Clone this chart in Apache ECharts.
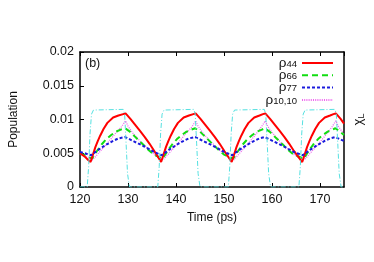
<!DOCTYPE html>
<html><head><meta charset="utf-8">
<script src="https://cdn.jsdelivr.net/npm/echarts@6/dist/echarts.min.js"></script>
<style>html,body{margin:0;padding:0;background:#fff}#c{width:374px;height:262px}</style>
</head><body><div id="c"></div>
<script>
var xTicks = [120, 130, 140, 150, 160, 170];
var yTicks = [0, 0.005, 0.01, 0.015, 0.02];
var seriesNames = ['ρ44', 'ρ66', 'ρ77', 'ρ10,10'];

var rho44 = [
 [120,0.0050],[121,0.0045],[121.7,0.0040],[122.2,0.0037],[122.7,0.0048],[123.2,0.0059],[123.7,0.0068],[124.2,0.0076],[124.9,0.0086],[125.7,0.0095],[126.9,0.0103],[128,0.0106],[129,0.0108],[129.5,0.0109],
 [130.5,0.0101],[131.5,0.0092],[132.5,0.0083],[133.5,0.0074],[134.5,0.0064],[135.5,0.0053],[136.9,0.0037],
 [137.4,0.0048],[137.9,0.0059],[138.4,0.0068],[138.9,0.0076],[139.6,0.0086],[140.4,0.0095],[141.6,0.0103],[142.7,0.0106],[143.6,0.0108],[144.1,0.0109],
 [145.1,0.0101],[146.1,0.0092],[147.1,0.0083],[148.1,0.0074],[149.1,0.0064],[150.1,0.0053],[151.6,0.0037],
 [152.1,0.0048],[152.6,0.0059],[153.1,0.0068],[153.6,0.0076],[154.3,0.0086],[155.1,0.0095],[156.3,0.0103],[157.4,0.0106],[158.1,0.0108],[158.6,0.0109],
 [159.6,0.0101],[160.6,0.0092],[161.6,0.0083],[162.6,0.0074],[163.6,0.0064],[164.6,0.0053],[166.3,0.0037],
 [166.8,0.0048],[167.3,0.0059],[167.8,0.0068],[168.3,0.0076],[169.0,0.0086],[169.8,0.0095],[171.0,0.0103],[172.1,0.0106],[172.8,0.0108],[173.3,0.0109],
 [174.3,0.0101],[175,0.0094]
];
var rho66 = [
 [120,0.0050],[121,0.0047],[122.5,0.0042],[123.5,0.0053],[124.5,0.0063],[125.5,0.0071],[126.5,0.0077],[127.5,0.0082],[128.5,0.0085],[129.4,0.0087],
 [130.4,0.0082],[131.4,0.0075],[132.4,0.0068],[133.4,0.0061],[134.4,0.0054],[135.4,0.0048],[137.2,0.0042],
 [138.2,0.0053],[139.2,0.0063],[140.2,0.0071],[141.2,0.0077],[142.2,0.0082],[143.2,0.0085],[144.0,0.0087],
 [145,0.0082],[146,0.0075],[147,0.0068],[148,0.0061],[149,0.0054],[150,0.0048],[151.9,0.0042],
 [152.9,0.0053],[153.9,0.0063],[154.9,0.0071],[155.9,0.0077],[156.9,0.0082],[157.9,0.0085],[158.5,0.0087],
 [159.5,0.0082],[160.5,0.0075],[161.5,0.0068],[162.5,0.0061],[163.5,0.0054],[164.5,0.0048],[166.6,0.0042],
 [167.6,0.0053],[168.6,0.0063],[169.6,0.0071],[170.6,0.0077],[171.6,0.0082],[172.6,0.0085],[173.2,0.0087],
 [174.2,0.0082],[175,0.0077]
];
var rho77 = [
 [120,0.0052],[121,0.0050],[122.3,0.0047],[123.8,0.0055],[125.3,0.0062],[126.8,0.0068],[128,0.0072],[129.4,0.0074],
 [131.4,0.0067],[133.4,0.0060],[135.4,0.0052],[137,0.0047],
 [138.5,0.0055],[140,0.0062],[141.5,0.0068],[142.7,0.0072],[144.0,0.0074],
 [146,0.0067],[148,0.0060],[150,0.0052],[151.7,0.0047],
 [153.2,0.0055],[154.7,0.0062],[156.2,0.0068],[157.4,0.0072],[158.5,0.0074],
 [160.5,0.0067],[162.5,0.0060],[164.5,0.0052],[166.4,0.0047],
 [167.9,0.0055],[169.4,0.0062],[170.9,0.0068],[172.1,0.0072],[173.2,0.0074],
 [175,0.0068]
];
var rho1010 = [
 [120,0.0049],[121,0.0046],[122.6,0.0040],[124.1,0.0052],[125.6,0.0064],[127.1,0.0077],[128.6,0.0089],[129.5,0.0098],
 [130,0.0090],[131,0.0080],[132.5,0.0068],[134,0.0058],[135.5,0.0048],[137.3,0.0040],
 [138.8,0.0052],[140.3,0.0064],[141.8,0.0077],[143.3,0.0089],[144.1,0.0098],
 [144.6,0.0090],[145.6,0.0080],[147.1,0.0068],[148.6,0.0058],[150.1,0.0048],[152.0,0.0040],
 [153.5,0.0052],[155.0,0.0064],[156.5,0.0077],[157.8,0.0089],[158.6,0.0098],
 [159.1,0.0090],[160.1,0.0080],[161.6,0.0068],[163.1,0.0058],[164.6,0.0048],[166.7,0.0040],
 [168.2,0.0052],[169.7,0.0064],[171.2,0.0077],[172.5,0.0089],[173.3,0.0098],
 [173.8,0.0090],[174.8,0.0080],[175,0.0078]
];
var chiL = [
 [120,0],[121.5,0],[121.8,0.003],[122.1,0.008],[122.4,0.0108],[122.8,0.0114],[129.0,0.0115],[129.3,0.0108],[129.6,0.0065],[129.9,0.002],[130.3,0],
 [136.2,0],[136.5,0.003],[136.8,0.008],[137.1,0.0108],[137.5,0.0114],[143.7,0.0115],[144.0,0.0108],[144.3,0.0065],[144.6,0.002],[145.0,0],
 [150.9,0],[151.2,0.003],[151.5,0.008],[151.8,0.0108],[152.2,0.0114],[158.4,0.0115],[158.7,0.0108],[159.0,0.0065],[159.3,0.002],[159.7,0],
 [165.6,0],[165.9,0.003],[166.2,0.008],[166.5,0.0108],[166.9,0.0114],[173.1,0.0115],[173.4,0.0108],[173.7,0.0065],[174.0,0.002],[174.4,0],[175,0]
];

var FONT = 'Liberation Sans';
var chart = echarts.init(document.getElementById('c'), null, {renderer: 'canvas'});
var axisLine = {show: true, onZero: false, lineStyle: {color: '#000', width: 1.5}};
var tick = {show: true, inside: true, length: 4, lineStyle: {color: '#000', width: 1}};
function mk(name, data, color, width, type, z) {
  return {name: name, type: 'line', data: data, symbol: 'none', showSymbol: false,
    lineStyle: {color: color, width: width, type: type}, itemStyle: {color: color}, z: z, animation: false};
}
chart.setOption({
  animation: false,
  textStyle: {fontFamily: FONT},
  grid: {left: 77.5, right: 25, top: 52, bottom: 75, containLabel: false},
  xAxis: [
    {type: 'value', min: xTicks[0], max: 175, interval: 10, position: 'bottom',
     axisLine: axisLine, axisTick: tick, splitLine: {show: false},
     axisLabel: {color: '#111', fontSize: 12.5, fontFamily: FONT, margin: 6, showMaxLabel: false},
     name: 'Time (ps)', nameLocation: 'middle', nameGap: 25,
     nameTextStyle: {color: '#111', fontSize: 12, fontFamily: FONT}},
    {type: 'value', min: xTicks[0], max: 175, interval: 10, position: 'top',
     axisLine: axisLine, axisTick: tick, axisLabel: {show: false}, splitLine: {show: false}}
  ],
  yAxis: [
    {type: 'value', min: yTicks[0], max: yTicks[yTicks.length - 1], interval: 0.005, position: 'left',
     axisLine: axisLine, axisTick: tick, splitLine: {show: false},
     axisLabel: {color: '#111', fontSize: 12.5, fontFamily: FONT, margin: 6,
       formatter: function (v) { return String(+v.toFixed(3)); }},
     name: 'Population', nameLocation: 'middle', nameGap: 60,
     nameTextStyle: {color: '#111', fontSize: 12, fontFamily: FONT}},
    {type: 'value', min: 0, max: 0.02, interval: 0.005, position: 'right',
     axisLine: axisLine, axisTick: {show: false}, axisLabel: {show: false}, splitLine: {show: false},
     name: '{a|χ}{b|L}', nameLocation: 'middle', nameGap: 7,
     nameTextStyle: {color: '#111', fontFamily: FONT,
       rich: {a: {fontSize: 13, lineHeight: 15, fontFamily: FONT, color: '#111'},
              b: {fontSize: 9, lineHeight: 15, verticalAlign: 'bottom', fontFamily: FONT, color: '#111'}}}}
  ],
  legend: {
    data: seriesNames, orient: 'vertical', align: 'right', right: 40, top: 56,
    itemWidth: 31, itemHeight: 12, itemGap: -1.7, padding: 0,
    itemStyle: {opacity: 0},
    formatter: function (n) { return '{r|ρ}{s|' + n.slice(1) + '}'; },
    textStyle: {color: '#111', fontFamily: FONT, lineHeight: 12,
      rich: {r: {fontSize: 13.5, lineHeight: 12, fontFamily: FONT, color: '#111'},
             s: {fontSize: 9.5, lineHeight: 12, verticalAlign: 'bottom', fontFamily: FONT, color: '#111'}}}
  },
  graphic: [{type: 'text', left: 85, top: 57, style: {text: '(b)', font: '12.5px "Liberation Sans"', fill: '#111'}}],
  series: [
    mk(seriesNames[0], rho44, '#ff0000', 2, 'solid', 5),
    mk(seriesNames[1], rho66, '#11dd11', 2, [6, 4], 4),
    mk(seriesNames[2], rho77, '#1a1add', 2, [3, 2], 6),
    mk(seriesNames[3], rho1010, '#ee66ee', 1.3, [1, 1.2], 3),
    Object.assign(mk('χL', chiL, '#55e0e0', 1, [5, 2, 1, 2], 7), {yAxisIndex: 1})
  ]
});
</script></body></html>
